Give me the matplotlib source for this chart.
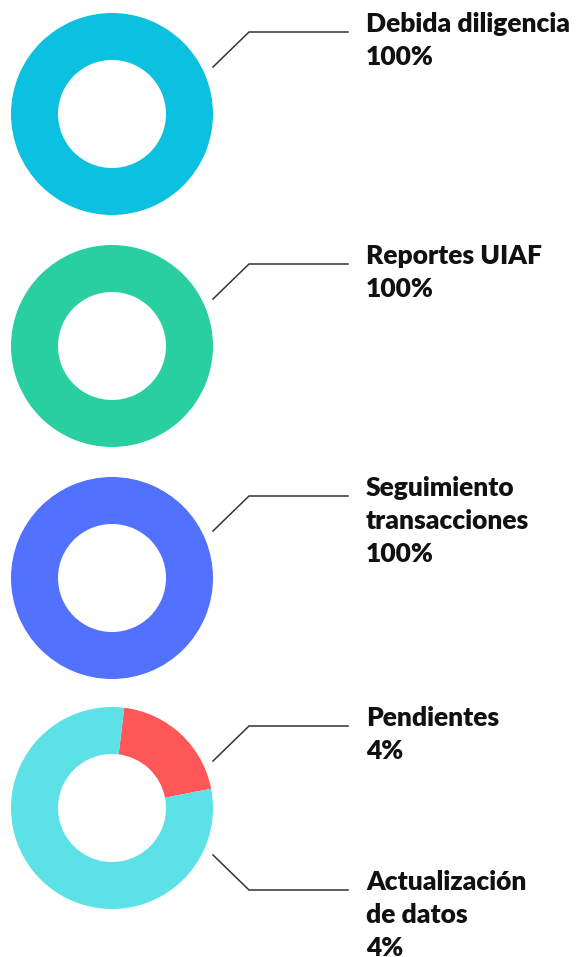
import matplotlib
matplotlib.use('Agg')
from matplotlib import pyplot as plt

# donut data
names = [['Debida diligencia'], ['Reportes UIAF'], ['Seguimiento', 'transacciones'], ['Pendientes']]
pct_text = ['100%', '100%', '100%', '4%']
values = [[100], [100], [100], [20, 80]]
colors = [['#0CC0DF'], ['#29CFA0'], ['#5271FF'], ['#FF5757', '#5CE1E6']]
start_angles = [90, 90, 90, 83]
extra_name = ['Actualización', 'de datos']
extra_pct = '4%'

W, H = 582, 957
fig = plt.figure(figsize=(W / 100, H / 100), dpi=100)
ax = fig.add_axes([0, 0, 1, 1])
ax.set_xlim(0, W)
ax.set_ylim(0, H)
ax.set_aspect('equal')
ax.axis('off')

cx = 112
centers = [114, 346, 578, 808]
R = 101
ring = 47
tx = 366
gap = 33
font = dict(family=['Lato', 'DejaVu Sans'], fontsize=19, fontweight='heavy', color='#111111')


def leader(cy, sign=-1):
    y0 = H - (cy + sign * 47)
    y1 = H - (cy + sign * 82)
    ax.plot([213, 249, 348], [y0, y1, y1], color='#333333', lw=1.1)
    return y1


def label(lines, y):
    for i, s in enumerate(lines):
        ax.text(tx, y - i * gap, s, va='baseline', ha='left', **font)


for i, cy in enumerate(centers):
    ax.pie(values[i], colors=colors[i], center=(cx, H - cy), radius=R,
           startangle=start_angles[i], counterclock=False,
           wedgeprops=dict(width=ring, linewidth=0))
    y1 = leader(cy)
    label(names[i] + [pct_text[i]], y1)

# second label on last donut
y1 = leader(centers[3], sign=1)
label(extra_name + [extra_pct], y1)

ax.set_xlim(0, W)
ax.set_ylim(0, H)
fig.savefig('out.png', dpi=100)
